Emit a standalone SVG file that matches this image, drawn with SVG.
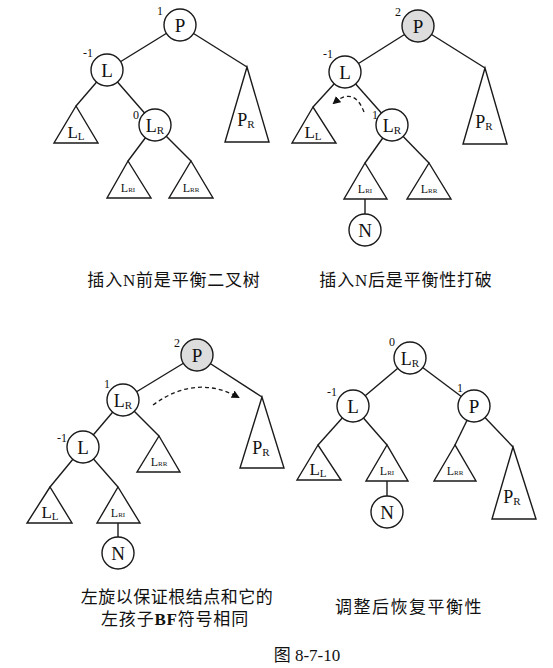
<svg xmlns="http://www.w3.org/2000/svg" width="553" height="668" viewBox="0 0 553 668">
<style>
.e{stroke:#1a1a1a;stroke-width:1.4;fill:none}
.c{fill:#fff;stroke:#1a1a1a;stroke-width:1.4}
.g{fill:#ddd;stroke:#1a1a1a;stroke-width:1.4}
.t{fill:#fff;stroke:#1a1a1a;stroke-width:1.4;stroke-linejoin:miter}
.n{font-family:"Liberation Serif",serif;font-size:19px;fill:#111;text-anchor:middle}
.s{font-family:"Liberation Serif",serif;font-size:11px;fill:#111;text-anchor:middle}
.sm{font-family:"Liberation Serif",serif;font-size:12px;fill:#111;text-anchor:middle}
.bf{font-family:"Liberation Serif",serif;font-size:12px;fill:#111;text-anchor:middle}
.cap{font-family:"Liberation Serif","Noto Sans CJK SC",serif;font-size:17px;fill:#111;text-anchor:middle}
.d{stroke:#1a1a1a;stroke-width:1.3;fill:none;stroke-dasharray:4 3}
</style>
<defs>
<marker id="ah" markerWidth="8" markerHeight="8" refX="6" refY="4" orient="auto" markerUnits="userSpaceOnUse">
<path d="M0,0 L8,4 L0,8 Z" fill="#111"/>
</marker>
</defs>
<rect width="553" height="668" fill="#fff"/>

<g id="connectors">
<!-- tree 1 -->
<line class="e" x1="180" y1="25" x2="107" y2="70"/>
<line class="e" x1="180" y1="25" x2="247" y2="67"/>
<line class="e" x1="107" y1="70" x2="76" y2="106"/>
<line class="e" x1="107" y1="70" x2="155" y2="125"/>
<line class="e" x1="155" y1="125" x2="128" y2="161"/>
<line class="e" x1="155" y1="125" x2="191" y2="161"/>
<!-- tree 2 -->
<line class="e" x1="418" y1="26" x2="345" y2="72"/>
<line class="e" x1="418" y1="26" x2="485" y2="68"/>
<line class="e" x1="345" y1="72" x2="313" y2="107"/>
<line class="e" x1="345" y1="72" x2="392" y2="125"/>
<line class="e" x1="392" y1="125" x2="365" y2="163"/>
<line class="e" x1="392" y1="125" x2="429" y2="163"/>
<line class="e" x1="365" y1="199" x2="365" y2="230"/>
<path class="d" d="M364,112 Q354,86 334,103" marker-end="url(#ah)"/>
<!-- tree 3 -->
<line class="e" x1="197" y1="355" x2="123" y2="400"/>
<line class="e" x1="197" y1="355" x2="262" y2="397"/>
<line class="e" x1="123" y1="400" x2="83" y2="447"/>
<line class="e" x1="123" y1="400" x2="159" y2="436"/>
<line class="e" x1="83" y1="447" x2="50" y2="487"/>
<line class="e" x1="83" y1="447" x2="118" y2="487"/>
<line class="e" x1="118" y1="523" x2="118" y2="553"/>
<path class="d" d="M153,405 Q195,374 238,397" marker-end="url(#ah)"/>
<!-- tree 4 -->
<line class="e" x1="410" y1="358" x2="353" y2="406"/>
<line class="e" x1="410" y1="358" x2="474" y2="406"/>
<line class="e" x1="353" y1="406" x2="318" y2="445"/>
<line class="e" x1="353" y1="406" x2="387" y2="445"/>
<line class="e" x1="387" y1="481" x2="387" y2="512"/>
<line class="e" x1="474" y1="406" x2="455" y2="445"/>
<line class="e" x1="474" y1="406" x2="513" y2="447"/>
</g>

<!-- ========== Tree 1 ========== -->
<g id="t1-P"><circle class="c" cx="180" cy="25" r="16"/><text class="n" x="180" y="32">P</text><text class="bf" x="160" y="15">1</text></g>
<g id="t1-L"><circle class="c" cx="107" cy="70" r="16"/><text class="n" x="107" y="77">L</text><text class="bf" x="88" y="57">-1</text></g>
<g id="t1-LR"><circle class="c" cx="155" cy="125" r="16"/><text class="n" x="155" y="132" style="font-size:18px">L<tspan style="font-size:11px" dy="2">R</tspan></text><text class="bf" x="136" y="119">0</text></g>
<g id="t1-LL"><polygon class="t" points="76,106 54,143 98,143"/><text class="n" x="76" y="138" style="font-size:17px">L<tspan style="font-size:11px" dy="2">L</tspan></text></g>
<g id="t1-LRL"><polygon class="t" points="128,161 107,198 151,198"/><text class="sm" x="128" y="192">L<tspan style="font-size:7px">RI</tspan></text></g>
<g id="t1-LRR"><polygon class="t" points="191,161 169,198 213,198"/><text class="sm" x="191" y="192">L<tspan style="font-size:7px">RR</tspan></text></g>
<g id="t1-PR"><polygon class="t" points="247,67 225,142 269,142"/><text class="n" x="246" y="126" style="font-size:18px">P<tspan style="font-size:11px" dy="2">R</tspan></text></g>

<!-- ========== Tree 2 ========== -->
<g id="t2-P"><circle class="g" cx="418" cy="26" r="16"/><text class="n" x="418" y="33">P</text><text class="bf" x="398" y="16">2</text></g>
<g id="t2-L"><circle class="c" cx="345" cy="72" r="16"/><text class="n" x="345" y="79">L</text><text class="bf" x="328" y="58">-1</text></g>
<g id="t2-LR"><circle class="c" cx="392" cy="125" r="16"/><text class="n" x="392" y="132" style="font-size:18px">L<tspan style="font-size:11px" dy="2">R</tspan></text><text class="bf" x="375" y="119">1</text></g>
<g id="t2-LL"><polygon class="t" points="313,107 292,143 336,143"/><text class="n" x="313" y="138" style="font-size:17px">L<tspan style="font-size:11px" dy="2">L</tspan></text></g>
<g id="t2-LRL"><polygon class="t" points="365,163 344,199 387,199"/><text class="sm" x="365" y="193">L<tspan style="font-size:7px">RI</tspan></text></g>
<g id="t2-LRR"><polygon class="t" points="429,163 407,199 451,199"/><text class="sm" x="429" y="193">L<tspan style="font-size:7px">RR</tspan></text></g>
<g id="t2-PR"><polygon class="t" points="485,68 463,144 507,144"/><text class="n" x="484" y="128" style="font-size:18px">P<tspan style="font-size:11px" dy="2">R</tspan></text></g>
<g id="t2-N"><circle class="c" cx="365" cy="230" r="16"/><text class="n" x="365" y="237">N</text></g>

<!-- ========== Tree 3 ========== -->
<g id="t3-P"><circle class="g" cx="197" cy="355" r="16"/><text class="n" x="197" y="362">P</text><text class="bf" x="177" y="347">2</text></g>
<g id="t3-LR"><circle class="c" cx="123" cy="400" r="16"/><text class="n" x="123" y="407" style="font-size:18px">L<tspan style="font-size:11px" dy="2">R</tspan></text><text class="bf" x="107" y="388">1</text></g>
<g id="t3-L"><circle class="c" cx="83" cy="447" r="16"/><text class="n" x="83" y="454">L</text><text class="bf" x="62" y="442">-1</text></g>
<g id="t3-LRR"><polygon class="t" points="159,436 137,472 180,472"/><text class="sm" x="159" y="466">L<tspan style="font-size:7px">RR</tspan></text></g>
<g id="t3-PR"><polygon class="t" points="262,397 240,468 284,468"/><text class="n" x="261" y="454" style="font-size:18px">P<tspan style="font-size:11px" dy="2">R</tspan></text></g>
<g id="t3-LL"><polygon class="t" points="50,487 27,523 72,523"/><text class="n" x="50" y="518" style="font-size:17px">L<tspan style="font-size:11px" dy="2">L</tspan></text></g>
<g id="t3-LRL"><polygon class="t" points="118,487 97,523 140,523"/><text class="sm" x="118" y="517">L<tspan style="font-size:7px">RI</tspan></text></g>
<g id="t3-N"><circle class="c" cx="118" cy="553" r="16"/><text class="n" x="118" y="560">N</text></g>

<!-- ========== Tree 4 ========== -->
<g id="t4-LR"><circle class="c" cx="410" cy="358" r="16"/><text class="n" x="410" y="365" style="font-size:18px">L<tspan style="font-size:11px" dy="2">R</tspan></text><text class="bf" x="392" y="346">0</text></g>
<g id="t4-L"><circle class="c" cx="353" cy="406" r="16"/><text class="n" x="353" y="413">L</text><text class="bf" x="332" y="396">-1</text></g>
<g id="t4-P"><circle class="c" cx="474" cy="406" r="16"/><text class="n" x="474" y="413">P</text><text class="bf" x="460" y="392">1</text></g>
<g id="t4-LL"><polygon class="t" points="318,445 297,480 341,480"/><text class="n" x="318" y="475" style="font-size:17px">L<tspan style="font-size:11px" dy="2">L</tspan></text></g>
<g id="t4-LRL"><polygon class="t" points="387,445 366,481 408,481"/><text class="sm" x="387" y="475">L<tspan style="font-size:7px">RI</tspan></text></g>
<g id="t4-N"><circle class="c" cx="387" cy="512" r="16"/><text class="n" x="387" y="519">N</text></g>
<g id="t4-LRR"><polygon class="t" points="455,445 434,481 476,481"/><text class="sm" x="455" y="475">L<tspan style="font-size:7px">RR</tspan></text></g>
<g id="t4-PR"><polygon class="t" points="513,447 492,519 536,519"/><text class="n" x="512" y="503" style="font-size:18px">P<tspan style="font-size:11px" dy="2">R</tspan></text></g>

<!-- captions -->
<g id="captions">
<text class="cap" x="174" y="286" letter-spacing="0.8">插入N前是平衡二叉树</text>
<text class="cap" x="406" y="286" letter-spacing="0.8">插入N后是平衡性打破</text>
<text class="cap" x="177" y="603" letter-spacing="0.5">左旋以保证根结点和它的</text>
<text class="cap" x="175" y="625" letter-spacing="0.8">左孩子<tspan font-weight="bold">BF</tspan>符号相同</text>
<text class="cap" x="409" y="613" letter-spacing="1.5">调整后恢复平衡性</text>
<text class="cap" x="307" y="661">图 8-7-10</text>
</g>
</svg>
